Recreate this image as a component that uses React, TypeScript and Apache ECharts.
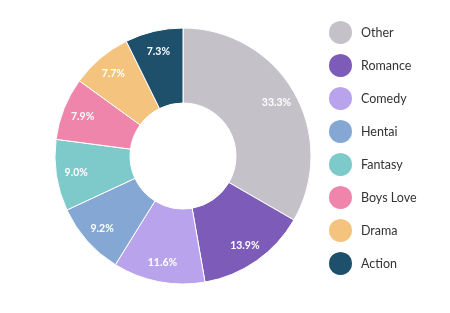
import React, { useEffect, useRef } from "react";
import * as echarts from "echarts";

const categories = ["Other", "Romance", "Comedy", "Hentai", "Fantasy", "Boys Love", "Drama", "Action"];
const values = [33.3, 13.9, 11.6, 9.2, 9.0, 7.9, 7.7, 7.3];
const colors = ["#c4c2c8", "#7d5bb8", "#b9a3ec", "#84a8d3", "#7ecacb", "#ef85ab", "#f4c47e", "#1e506b"];

export default function App() {
  const ref = useRef<HTMLDivElement>(null);
  useEffect(() => {
    if (!ref.current) return;
    const chart = echarts.init(ref.current, undefined, { renderer: "svg" });
    const data = categories.map((name, i) => ({ name, value: values[i], itemStyle: { color: colors[i] } }));
    chart.setOption({
      animation: false,
      textStyle: { fontFamily: "Lato" },
      legend: {
        orient: "vertical",
        left: 322,
        top: 14,
        icon: "circle",
        itemWidth: 25,
        itemHeight: 25,
        itemGap: 6,
        textStyle: { fontSize: 12.5, color: "#333", fontFamily: "Lato", padding: [0, 0, 0, 3] },
        data: categories,
      },
      series: [
        {
          type: "pie",
          center: [183, 156],
          radius: [53, 128],
          startAngle: 90,
          clockwise: true,
          itemStyle: { borderColor: "#fff", borderWidth: 1 },
          label: { show: false },
          labelLine: { show: false },
          emphasis: { disabled: true },
          data,
        },
        {
          type: "pie",
          center: [183, 156],
          radius: [82, 128],
          startAngle: 90,
          clockwise: true,
          silent: true,
          legendHoverLink: false,
          itemStyle: { color: "transparent", borderWidth: 0 },
          label: {
            show: true,
            position: "inside",
            formatter: (p: any) => p.value.toFixed(1) + "%",
            color: "#fff",
            fontSize: 10.5,
            fontWeight: "bold",
            fontFamily: "Lato",
          },
          labelLine: { show: false },
          emphasis: { disabled: true },
          data: categories.map((name, i) => ({ name: name + "_lbl", value: values[i] })),
        },
      ],
    });
    return () => chart.dispose();
  }, []);
  return <div ref={ref} style={{ position: "fixed", left: 0, top: 0, width: 450, height: 313 }} />;
}
